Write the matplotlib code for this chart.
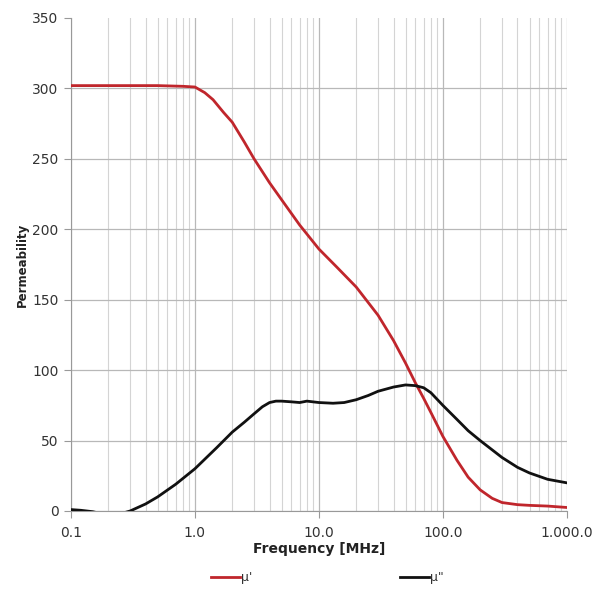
import matplotlib.pyplot as plt
from matplotlib.ticker import FixedLocator, LogLocator, NullFormatter

## values
freq_red = [0.1, 0.2, 0.5, 0.8, 1.0, 1.2, 1.4, 1.7, 2.0, 2.5, 3.0, 4.0, 5.0, 7.0, 10.0,
            14.0, 20.0, 30.0, 40.0, 50.0, 60.0, 70.0, 80.0, 100.0, 130.0, 160.0, 200.0,
            250.0, 300.0, 400.0, 500.0, 700.0, 1000.0]
mu_real = [302, 302, 302, 301.5, 301, 297, 292, 283, 276, 262, 250, 233, 221, 203, 186,
           173, 159, 139, 121, 105, 91, 80, 70, 53, 36, 24, 15,
           9, 6, 4.5, 4, 3.5, 2.5]

freq_blk = [0.1, 0.12, 0.15, 0.2, 0.25, 0.3, 0.4, 0.5, 0.7, 1.0, 1.5, 2.0, 2.5, 3.0, 3.5,
            4.0, 4.5, 5.0, 6.0, 7.0, 8.0, 10.0, 13.0, 16.0, 20.0, 25.0, 30.0, 40.0,
            50.0, 60.0, 70.0, 80.0, 100.0, 130.0, 160.0, 200.0, 300.0, 400.0, 500.0,
            700.0, 1000.0]
mu_imag = [1, 0.5, -0.5, -3, -2, 0, 5, 10, 19, 30, 45, 56, 63, 69, 74,
           77, 78, 78, 77.5, 77, 78, 77, 76.5, 77, 79, 82, 85, 88,
           89.5, 89, 87.5, 84, 75, 65, 57, 50, 38, 31, 27, 22.5, 20]

xticks = [0.1, 1.0, 10.0, 100.0, 1000.0]
xlabels = ['0.1', '1.0', '10.0', '100.0', '1.000.0']
yticks = [0, 50, 100, 150, 200, 250, 300, 350]

fig = plt.figure(figsize=(6.03, 5.9), dpi=100)
ax = fig.add_axes([0.1177, 0.1339, 0.8223, 0.8356])

red, = ax.plot(freq_red, mu_real, color='#C0262C', lw=2, label="\u03bc'", zorder=3)
blk, = ax.plot(freq_blk, mu_imag, color='#111111', lw=2, label='\u03bc"', zorder=4)

ax.set_xscale('log')
ax.set_xlim(0.1, 1000)
ax.set_ylim(0, 350)
ax.xaxis.set_major_locator(FixedLocator(xticks))
ax.set_xticklabels(xlabels)
ax.xaxis.set_minor_locator(LogLocator(base=10, subs=range(2, 10)))
ax.xaxis.set_minor_formatter(NullFormatter())
ax.set_yticks(yticks)

ax.grid(True, which='major', axis='x', color='#b8b8b8', lw=0.9)
ax.grid(True, which='minor', axis='x', color='#d4d4d4', lw=0.8)
ax.grid(True, which='major', axis='y', color='#b8b8b8', lw=0.9)
ax.set_axisbelow(True)
for g in ax.get_ygridlines()[-1:]:
    g.set_visible(False)

for s in ['top', 'right']:
    ax.spines[s].set_visible(False)
for s in ['left', 'bottom']:
    ax.spines[s].set_color('#999999')
ax.tick_params(axis='y', which='major', length=5, color='#999999', labelsize=10,
               labelcolor='#333333', pad=4)
ax.tick_params(axis='x', which='major', length=5, color='#999999', labelsize=10,
               labelcolor='#333333', pad=6)
ax.tick_params(axis='x', which='minor', length=0)

ax.set_xlabel('Frequency [MHz]', fontsize=10, fontweight='bold', color='#222222', labelpad=1)
ax.set_ylabel('Permeability', fontsize=8.5, fontweight='bold', color='#222222', labelpad=2)

fig.legend(handles=[red, blk], loc='center', bbox_to_anchor=(0.543, 0.021), ncol=2,
           frameon=False, handlelength=2.3, handletextpad=0.1, columnspacing=11.8,
           fontsize=9, labelcolor='#333333')

fig.savefig('out.png', dpi=100)
